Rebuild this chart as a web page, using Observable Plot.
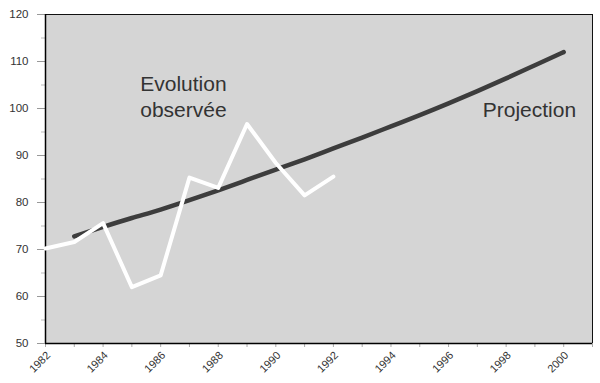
<!DOCTYPE html>
<html>
<head>
<meta charset="utf-8">
<script src="https://cdn.jsdelivr.net/npm/d3@7"></script>
<script src="https://cdn.jsdelivr.net/npm/@observablehq/plot@0.6"></script>
<style>
  html, body { margin: 0; padding: 0; background: #ffffff; }
  #chart svg { display: block; }
</style>
</head>
<body>
<div id="chart"></div>
<script>
// Observed series ("Evolution observée")
const obsYears  = [1982, 1983, 1984, 1985, 1986, 1987, 1988, 1989, 1990, 1991, 1992];
const obsValues = [70.2, 71.6, 75.6, 62.0, 64.5, 85.3, 83.1, 96.7, 88.4, 81.5, 85.5];

// Projection series
const projYears  = [1983, 1984, 1985, 1986, 1987, 1988, 1989, 1990, 1991, 1992,
                    1993, 1994, 1995, 1996, 1997, 1998, 1999, 2000];
const projValues = [72.8, 74.8, 76.7, 78.5, 80.5, 82.6, 84.8, 87.0, 89.2, 91.5,
                    93.8, 96.2, 98.6, 101.1, 103.7, 106.4, 109.2, 112.0];

// Tick labels
const xTickYears  = [1982, 1984, 1986, 1988, 1990, 1992, 1994, 1996, 1998, 2000];
const xMinorYears = [1982, 1983, 1984, 1985, 1986, 1987, 1988, 1989, 1990, 1991,
                     1992, 1993, 1994, 1995, 1996, 1997, 1998, 1999, 2000, 2001];
const yTicks      = [50, 60, 70, 80, 90, 100, 110, 120];
const yMinorTicks = [55, 65, 75, 85, 95, 105, 115];

// Annotation labels
const labels = [
  {text: "Evolution", x: 1986.79, y: 105.26},
  {text: "observée",  x: 1986.79, y: 99.72},
  {text: "Projection", x: 1998.81, y: 99.72}
];

const obs  = obsYears.map((d, i) => ({year: d, value: obsValues[i]}));
const proj = projYears.map((d, i) => ({year: d, value: projValues[i]}));

const chart = Plot.plot({
  width: 600,
  height: 383,
  marginLeft: 45,
  marginRight: 8,
  marginTop: 14,
  marginBottom: 40,
  style: {background: "#ffffff", fontFamily: "'Liberation Sans', Arial, sans-serif", color: "#333"},
  x: {domain: [1982, 2001]},
  y: {domain: [50, 120]},
  marks: [
    Plot.frame({fill: "#d5d5d5", stroke: "#111", strokeWidth: 1}),
    Plot.axisX(xMinorYears, {tickSize: 4, tickFormat: () => "", stroke: "#aaa"}),
    Plot.axisX(xTickYears, {tickSize: 0, tickRotate: -45, tickPadding: 10, fontSize: 11, fill: "#333", dx: 3, label: null, tickFormat: d => String(d)}),
    Plot.axisY(yMinorTicks, {tickSize: 4, tickFormat: () => "", stroke: "#bbb"}),
    Plot.axisY(yTicks, {tickSize: 8, tickPadding: 9, fontSize: 11.5, fill: "#333", stroke: "#999", label: null, tickFormat: d => String(d)}),
    Plot.ruleX([1982], {stroke: "#000", strokeWidth: 1.5}),
    Plot.ruleY([50], {stroke: "#000", strokeWidth: 1.5}),
    Plot.line(proj, {x: "year", y: "value", stroke: "#3d3d3d", strokeWidth: 4.5, curve: "natural"}),
    Plot.line(obs, {x: "year", y: "value", stroke: "#ffffff", strokeWidth: 4, strokeLinejoin: "round"}),
    Plot.text(labels, {x: "x", y: "y", text: "text", fontSize: 21, fill: "#333", lineAnchor: "middle"})
  ]
});
document.getElementById("chart").appendChild(chart);
</script>
</body>
</html>
